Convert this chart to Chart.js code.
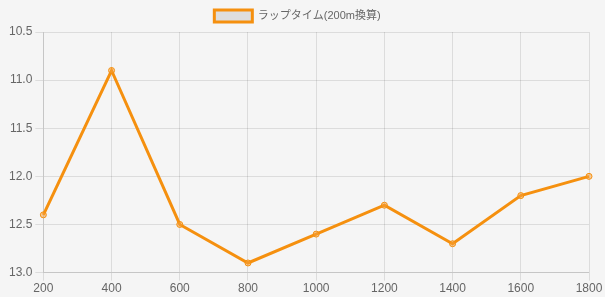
<!DOCTYPE html>
<html>
<head>
<meta charset="utf-8">
<script src="https://cdn.jsdelivr.net/npm/chart.js@4"></script>
<style>
  html, body { margin: 0; padding: 0; background: #f5f5f5; }
  #wrap { width: 605px; height: 297px; }
</style>
</head>
<body>
<div id="wrap"><canvas id="lap-canvas"></canvas></div>
<script>
const distances = ["200", "400", "600", "800", "1000", "1200", "1400", "1600", "1800"];
const lapTimes = [12.4, 10.9, 12.5, 12.9, 12.6, 12.3, 12.7, 12.2, 12.0];
const seriesLabel = "ラップタイム(200m換算)";

Chart.defaults.font.family = "'Liberation Sans', Arial, 'Noto Sans CJK JP', sans-serif";
Chart.defaults.font.size = 12;
Chart.defaults.color = "#666";

const ctx = document.getElementById("lap-canvas").getContext("2d");
new Chart(ctx, {
    type: "line",
    data: {
        labels: distances,
        datasets: [{
            label: seriesLabel,
            data: lapTimes,
            borderColor: "#f5900f",
            backgroundColor: "rgba(220,220,220,0.9)",
            borderWidth: 3,
            pointRadius: 3,
            pointBorderWidth: 1,
            pointBackgroundColor: "rgba(245,160,60,0.5)",
            pointBorderColor: "#f5900f",
            tension: 0,
            fill: false,
        }]
    },
    options: {
        responsive: true,
        maintainAspectRatio: false,
        animation: false,
        layout: { padding: { left: 6, right: 16, top: 0, bottom: 0 } },
        plugins: {
            legend: {
                display: true,
                labels: { boxWidth: 38, boxHeight: 12, padding: 10, color: "#666", font: { size: 11 } }
            },
            tooltip: { enabled: false }
        },
        scales: {
            x: {
                grid: { color: "rgba(0,0,0,0.1)", tickLength: 8 },
                ticks: { color: "#666", maxRotation: 0, padding: 1 }
            },
            y: {
                reverse: true,
                min: 10.5,
                max: 13.0,
                grid: { color: "rgba(0,0,0,0.1)", tickLength: 8 },
                ticks: { stepSize: 0.5, color: "#666", callback: (v) => v.toFixed(1) }
            }
        }
    }
});
</script>
</body>
</html>
